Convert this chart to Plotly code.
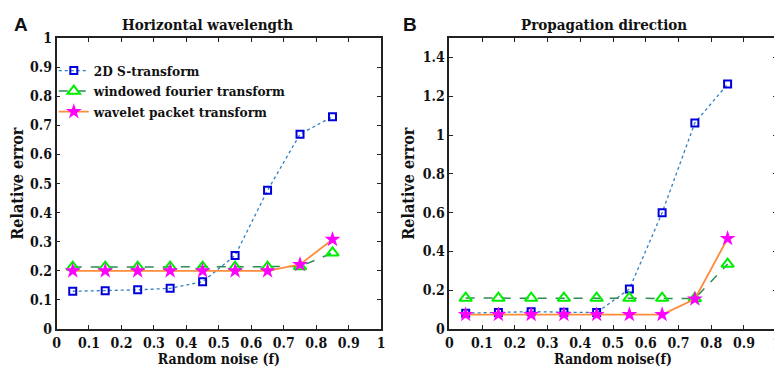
import plotly.graph_objects as go

noise = [0.05, 0.15, 0.25, 0.35, 0.45, 0.55, 0.65, 0.75, 0.85]

a_st = [0.130, 0.132, 0.135, 0.140, 0.163, 0.253, 0.477, 0.670, 0.730]
a_wft = [0.213, 0.213, 0.213, 0.213, 0.213, 0.213, 0.213, 0.215, 0.262]
a_wpt = [0.200, 0.200, 0.200, 0.200, 0.200, 0.200, 0.200, 0.222, 0.308]

b_st = [0.082, 0.085, 0.090, 0.087, 0.085, 0.207, 0.600, 1.063, 1.263]
b_wft = [0.160, 0.160, 0.160, 0.160, 0.160, 0.160, 0.160, 0.158, 0.335]
b_wpt = [0.075, 0.075, 0.075, 0.075, 0.075, 0.075, 0.075, 0.155, 0.467]

names = ["2D S-transform", "windowed fourier transform", "wavelet packet transform"]
titles = ["Horizontal wavelength", "Propagation direction"]
xlabels = ["Random noise (f)", "Random noise(f)"]
ylabel = "Relative error"
letters = ["A", "B"]

x_ticks = [0, 0.1, 0.2, 0.3, 0.4, 0.5, 0.6, 0.7, 0.8, 0.9, 1]
x_ticktext = ["0", "0.1", "0.2", "0.3", "0.4", "0.5", "0.6", "0.7", "0.8", "0.9", "1"]
ya_ticks = [0, 0.1, 0.2, 0.3, 0.4, 0.5, 0.6, 0.7, 0.8, 0.9, 1]
ya_ticktext = ["0", "0.1", "0.2", "0.3", "0.4", "0.5", "0.6", "0.7", "0.8", "0.9", "1"]
yb_ticks = [0, 0.2, 0.4, 0.6, 0.8, 1, 1.2, 1.4]
yb_ticktext = ["0", "0.2", "0.4", "0.6", "0.8", "1", "1.2", "1.4"]

SERIF = "DejaVu Serif Condensed"
SANS = "Liberation Sans"
INK = "#111111"

fig = go.Figure()

def add_series(st, wft, wpt, xa, ya, show):
    fig.add_trace(go.Scatter(
        x=noise, y=st, name="<b>" + names[0] + "</b>", mode="lines+markers", xaxis=xa, yaxis=ya,
        showlegend=show, legendgroup="st",
        line=dict(color="#2f7fc1", width=1.3, dash="dot"),
        marker=dict(symbol="square-open", size=7, color="#0000dd", line=dict(width=2, color="#0000dd"))))
    fig.add_trace(go.Scatter(
        x=noise, y=wft, name="<b>" + names[1] + "</b>", mode="lines+markers", xaxis=xa, yaxis=ya,
        showlegend=show, legendgroup="wft",
        line=dict(color="#2e8b57", width=1.5, dash="dash"),
        marker=dict(symbol="triangle-up-open", size=11, color="#00ee00", line=dict(width=2, color="#00ee00"))))
    fig.add_trace(go.Scatter(
        x=noise, y=wpt, name="<b>" + names[2] + "</b>", mode="lines+markers", xaxis=xa, yaxis=ya,
        showlegend=show, legendgroup="wpt",
        line=dict(color="#ff8c3a", width=1.8),
        marker=dict(symbol="star", size=12, color="#ff00ff", line=dict(width=0))))

add_series(a_st, a_wft, a_wpt, "x", "y", True)
add_series(b_st, b_wft, b_wpt, "x2", "y2", False)

tickfont = dict(family=SERIF, size=14, color=INK, weight="bold")
xtitlefont = dict(family=SERIF, size=14, color=INK, weight="bold")
ytitlefont = dict(family=SERIF, size=16, color=INK, weight="bold")

base = dict(
    showline=True, linecolor="#222", linewidth=1.5, mirror="allticks",
    ticks="inside", ticklen=4, tickwidth=1.2, tickcolor="#222",
    showgrid=False, zeroline=False, tickfont=tickfont,
)

dom_a = [0.0575, 0.477]
dom_b = [0.565, 0.988]
dom_y = [0.123, 0.938]

fig.update_layout(
    width=782, height=373,
    margin=dict(l=0, r=0, t=0, b=0),
    paper_bgcolor="white", plot_bgcolor="white",
    legend=dict(x=0.054, y=0.89, xanchor="left", yanchor="top", bgcolor="rgba(0,0,0,0)",
                font=dict(family=SERIF, size=13.5, color=INK), tracegroupgap=0,
                itemwidth=30),
    font=dict(family=SERIF, color=INK),
    xaxis=dict(base, domain=dom_a, anchor="y", range=[0, 1], tickvals=x_ticks, ticktext=x_ticktext,
               title=dict(text=xlabels[0], font=xtitlefont, standoff=2)),
    yaxis=dict(base, domain=dom_y, anchor="x", range=[0, 1], tickvals=ya_ticks, ticktext=ya_ticktext,
               title=dict(text=ylabel, font=ytitlefont, standoff=4)),
    xaxis2=dict(base, domain=dom_b, anchor="y2", range=[0, 1], tickvals=x_ticks, ticktext=x_ticktext,
                title=dict(text=xlabels[1], font=xtitlefont, standoff=2)),
    yaxis2=dict(base, domain=dom_y, anchor="x2", range=[0, 1.5], tickvals=yb_ticks, ticktext=yb_ticktext,
                title=dict(text=ylabel, font=ytitlefont, standoff=4)),
)

for t, xc in zip(titles, [0.253, 0.765]):
    fig.add_annotation(text="<b>" + t + "</b>", x=xc, y=1.005, xref="paper", yref="paper",
                       xanchor="center", yanchor="top", showarrow=False,
                       font=dict(family=SERIF, size=15, color=INK))

for L, xl in zip(letters, [0.0, 0.503]):
    fig.add_annotation(text="<b>" + L + "</b>", x=xl, y=1.01, xref="paper", yref="paper",
                       xanchor="left", yanchor="top", showarrow=False,
                       font=dict(family=SANS, size=19, color=INK))

fig.write_html("out.html")
